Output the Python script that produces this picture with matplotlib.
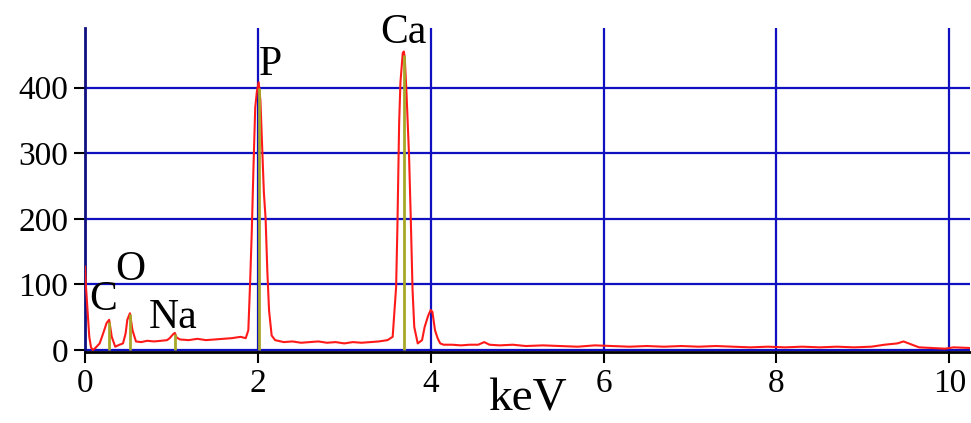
import numpy as np
import matplotlib.pyplot as plt

plt.rcParams['font.family'] = ['Liberation Serif', 'DejaVu Serif']

# EDS spectrum (keV, counts)
energy = [0.0, 0.01, 0.03, 0.05, 0.07, 0.09, 0.12, 0.17, 0.21, 0.25, 0.28, 0.31, 0.35,
          0.40, 0.44, 0.47, 0.49, 0.52, 0.55, 0.59, 0.65, 0.72, 0.80, 0.88, 0.95,
          0.98, 1.02, 1.04, 1.06, 1.10, 1.20, 1.30, 1.40, 1.50, 1.60, 1.70, 1.80,
          1.86, 1.89, 1.91, 1.93, 1.95, 1.97, 1.99, 2.01, 2.03, 2.05, 2.07, 2.09,
          2.11, 2.13, 2.16, 2.20, 2.30, 2.40, 2.50, 2.60, 2.70, 2.80, 2.90, 3.00,
          3.10, 3.20, 3.30, 3.40, 3.50, 3.56, 3.60, 3.615, 3.635, 3.65, 3.677, 3.69,
          3.70, 3.72, 3.75, 3.77, 3.79, 3.81, 3.85, 3.90, 3.93, 3.97, 4.00, 4.02,
          4.05, 4.08, 4.11, 4.15, 4.25, 4.35, 4.45, 4.55, 4.62, 4.68, 4.80, 4.95,
          5.10, 5.30, 5.50, 5.70, 5.90, 6.10, 6.30, 6.50, 6.70, 6.90, 7.10, 7.30,
          7.50, 7.70, 7.90, 8.10, 8.30, 8.50, 8.70, 8.90, 9.10, 9.25, 9.40, 9.47,
          9.55, 9.65, 9.80, 9.95, 10.05, 10.24]
counts = [127, 100, 60, 20, 4, 0, 3, 10, 25, 41, 46, 20, 5,
          8, 10, 25, 46, 56, 30, 13, 12, 14, 13, 14, 15,
          18, 24, 26, 19, 16, 15, 17, 15, 16, 17, 18, 20,
          18, 30, 100, 180, 280, 370, 395, 408, 380, 310, 240, 200,
          120, 60, 22, 15, 12, 13, 11, 12, 13, 11, 12, 10,
          12, 11, 12, 13, 15, 20, 96, 188, 346, 408, 453, 455,
          445, 392, 295, 198, 92, 35, 10, 15, 35, 52, 61, 58,
          30, 18, 10, 8, 8, 7, 8, 8, 12, 8, 7, 8,
          6, 7, 6, 5, 7, 6, 5, 6, 5, 6, 5, 6,
          5, 4, 5, 4, 5, 4, 5, 4, 5, 8, 10, 13,
          9, 4, 3, 2, 4, 3]

# element lines: position and height of the marker
elements = ['C', 'O', 'Na', 'P', 'Ca']
line_kev = [0.277, 0.525, 1.04, 2.01, 3.69]
line_top = [42, 55, 24, 400, 450]
label_x = [0.21, 0.53, 1.02, 2.15, 3.68]
label_y = [76, 122, 49, 435, 484]

fig = plt.figure(figsize=(9.71, 4.23), dpi=100)
ax = fig.add_axes([0.0875, 0.168, 0.9115, 0.766])

ax.plot(energy, counts, color='#ff1a1a', lw=1.5, zorder=3)
ax.vlines(line_kev, 0, line_top, color='#a8a828', lw=2, zorder=4)

for name, x, y in zip(elements, label_x, label_y):
    ax.text(x, y, name, fontsize=30, ha='center', va='center', zorder=5)

ax.set_xlim(0, 10.24)
ax.set_ylim(-3, 491)
ax.set_xticks([0, 2, 4, 6, 8, 10])
ax.set_yticks([0, 100, 200, 300, 400])
ax.grid(True, color='#1010c0', lw=1.6)
ax.set_axisbelow(True)

for s in ['top', 'right']:
    ax.spines[s].set_visible(False)
ax.spines['left'].set_color('#101080')
ax.spines['left'].set_linewidth(2)
ax.spines['bottom'].set_color('black')
ax.spines['bottom'].set_linewidth(2)
ax.tick_params(labelsize=24, width=1.5, length=8, pad=4)

ax.set_xlabel('keV', fontsize=34, labelpad=-15)

fig.savefig('out.png', dpi=100)
